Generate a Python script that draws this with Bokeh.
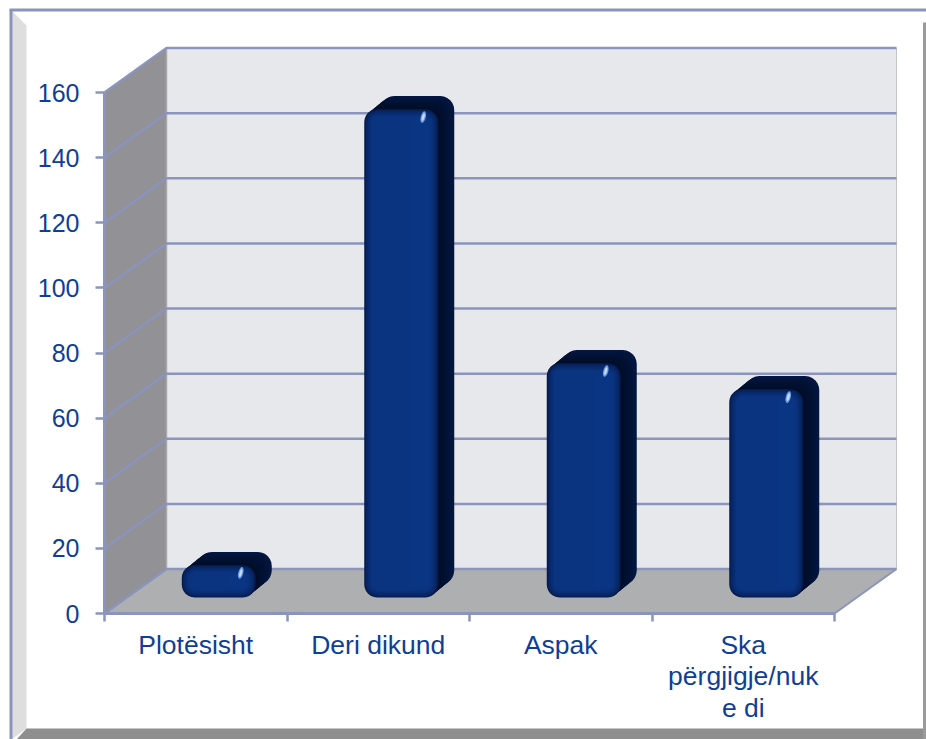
from bokeh.plotting import figure
from bokeh.models import LinearAxis, FixedTicker, Range1d
from bokeh.embed import file_html
from bokeh.resources import INLINE
import math

categories = ["Plotësisht", "Deri dikund", "Aspak", "Ska\npërgjigje/nuk\ne di"]
values = [10, 150, 72, 64]
y_ticks = [0, 20, 40, 60, 80, 100, 120, 140, 160]

W, H = 926, 739
PX_X = 182.5          # pixels per category
PX_Y = 521 / 160      # pixels per value unit
x0 = 0.5 - 104 / PX_X
x1 = x0 + W / PX_X
y0 = -126 / PX_Y
y1 = y0 + H / PX_Y

def dx(px): return px / PX_X
def dy(px): return px / PX_Y

DEPTH_X, DEPTH_Y = dx(62), dy(44.5)
XL, XR = 0.5, 4.5
YB, YT = 0, 160

BLUE = "#8A94BC"
TEXT = "#0F3F95"

p = figure(width=W, height=H, output_backend="svg", toolbar_location=None,
           x_range=Range1d(x0, x1), y_range=Range1d(y0, y1),
           x_axis_type=None, y_axis_type=None,
           min_border=0, min_border_left=0, min_border_right=0,
           min_border_top=0, min_border_bottom=0, outline_line_color=None)
p.grid.visible = False
p.background_fill_color = "white"
p.border_fill_color = "white"

# outer box -----------------------------------------------------------------
fr = x1 - dx(3.5)
fb = y0 + dy(11)
p.patch([x0 + dx(11), x0 + dx(26), x0 + dx(26), x0 + dx(11)],
        [y1 - dy(10), y1 - dy(25), fb, y0],
        fill_color="#DEDEDE", line_color=None)
p.patch([x0 + dx(16), x0 + dx(26), x1, x1], [y0, fb, fb, y0],
        fill_color="#8E8E8E", line_color=None)
p.patch([fr, x1, x1, fr], [y1 - dy(22), y1 - dy(22), y0, y0],
        fill_color="#9A9A9A", line_color=None)
p.line([x0 + dx(10.5), x0 + dx(10.5)], [y0, y1 - dy(9.5)], line_color=BLUE, line_width=3)
p.line([x0 + dx(9), x1], [y1 - dy(9.5), y1 - dy(9.5)], line_color=BLUE, line_width=3)

# walls and floor -----------------------------------------------------------
p.patch([XL + DEPTH_X, XR + DEPTH_X, XR + DEPTH_X, XL + DEPTH_X],
        [YB + DEPTH_Y, YB + DEPTH_Y, YT + DEPTH_Y, YT + DEPTH_Y],
        fill_color="#E7E8EC", line_color=None)
p.patch([XL, XL + DEPTH_X, XL + DEPTH_X, XL],
        [YB, YB + DEPTH_Y, YT + DEPTH_Y, YT],
        fill_color="#929196", line_color=None)
p.patch([XL, XL + DEPTH_X, XR + DEPTH_X, XR],
        [YB, YB + DEPTH_Y, YB + DEPTH_Y, YB],
        fill_color="#AEAFB1", line_color=None)
p.line([XL + DEPTH_X] * 2, [YB + DEPTH_Y, YT + DEPTH_Y], line_color="#A9A9AE", line_width=1.5)
p.line([XR + DEPTH_X] * 2, [YB + DEPTH_Y, YT + DEPTH_Y], line_color="#C4C5C9", line_width=1)
for t in y_ticks:
    p.line([XL, XL + DEPTH_X, XR + DEPTH_X], [t, t + DEPTH_Y, t + DEPTH_Y],
           line_color=BLUE, line_width=2.5)
p.line([XR, XR + DEPTH_X], [YB, YB + DEPTH_Y], line_color=BLUE, line_width=2)

# bars ----------------------------------------------------------------------
def rrect(l, r, b, t, rad):
    xs, ys = [], []
    corners = [(r - rad, t - rad, 0), (l + rad, t - rad, 90),
               (l + rad, b + rad, 180), (r - rad, b + rad, 270)]
    for cx, cy, a0 in corners:
        for k in range(7):
            a = math.radians(a0 + 15 * k)
            xs.append(cx + rad * math.cos(a))
            ys.append(cy + rad * math.sin(a))
    return xs, ys

def to_data(shape):
    return [x / PX_X for x in shape[0]], [y / PX_Y for y in shape[1]]

def mix(a, b, t):
    ca = [int(a[i:i + 2], 16) for i in (1, 3, 5)]
    cb = [int(b[i:i + 2], 16) for i in (1, 3, 5)]
    return "#%02x%02x%02x" % tuple(round(u + (v - u) * t) for u, v in zip(ca, cb))

xs, ys, cols = [], [], []
hx, hy = [], []
BAR_W = 74
for i, v in enumerate(values):
    cx = (i + 1) * PX_X + 23             # pixel-space centre of the front face
    l, r = cx - BAR_W / 2, cx + BAR_W / 2
    b, t = 16, v * PX_Y + 16
    # depth: stacked shapes walking back from the front face
    n = 12
    for k in range(n, 0, -1):
        f = k / n
        s = to_data(rrect(l + 16 * f, r + 16 * f, b + 13 * f, t + 13 * f, 14))
        xs.append(s[0]); ys.append(s[1]); cols.append(mix("#010C26", "#041B4C", f * 0.7))
    # front face: nested shapes, dark rim to light body
    m = 9
    for k in range(m):
        f = k / (m - 1)
        ins = k * 0.85
        s = to_data(rrect(l + ins, r - ins, b + ins, t - ins, max(13 - ins * 0.8, 3)))
        xs.append(s[0]); ys.append(s[1]); cols.append(mix("#061A48", "#0A3380", f ** 0.6))
    # lighter band on the right part of the face, when tall enough
    if t - b > 24:
        s = to_data(rrect(r - 27, r - 9, b + 9, t - 9, 4))
        xs.append(s[0]); ys.append(s[1]); cols.append("#0A3583")
    hx.append((r - 15) / PX_X)
    hy.append((t - 8) / PX_Y)

p.patches(xs, ys, fill_color=cols, line_color=None)
p.ellipse(hx, hy, width=5, height=12, width_units="screen", height_units="screen",
          angle=-0.25, fill_color="#6F9BE0", line_color=None)
p.ellipse(hx, hy, width=2.5, height=8, width_units="screen", height_units="screen",
          angle=-0.25, fill_color="#C6DCF8", line_color=None)

# axes ----------------------------------------------------------------------
yax = LinearAxis(ticker=FixedTicker(ticks=y_ticks), fixed_location=XL, bounds=(YB, YT))
yax.axis_line_color = BLUE
yax.axis_line_width = 3
yax.major_tick_line_color = BLUE
yax.major_tick_line_width = 2.5
yax.major_tick_in = 0
yax.major_tick_out = 9
yax.minor_tick_line_color = None
yax.major_label_standoff = 16
yax.major_label_text_font = "Liberation Sans"
yax.major_label_text_font_size = "25px"
yax.major_label_text_color = TEXT
p.add_layout(yax, "left")

edges = [0.5, 1.5, 2.5, 3.5, 4.5]
xax = LinearAxis(ticker=FixedTicker(ticks=edges), fixed_location=YB, bounds=(XL, XR))
xax.axis_line_color = BLUE
xax.axis_line_width = 3
xax.major_tick_line_color = BLUE
xax.major_tick_line_width = 2.5
xax.major_tick_in = 0
xax.major_tick_out = 8
xax.minor_tick_line_color = None
xax.major_label_text_font_size = "0px"
xax.major_label_overrides = {t: "" for t in edges}
p.add_layout(xax, "below")

lax = LinearAxis(ticker=FixedTicker(ticks=[1, 2, 3, 4]), fixed_location=YB)
lax.axis_line_color = None
lax.major_tick_line_color = None
lax.minor_tick_line_color = None
lax.major_label_overrides = {i + 1: c for i, c in enumerate(categories)}
lax.major_label_standoff = 10
lax.major_label_text_font = "Liberation Sans"
lax.major_label_text_font_size = "26.5px"
lax.major_label_text_color = TEXT
lax.major_label_text_line_height = 1.05
p.add_layout(lax, "below")

open("out.html", "w").write(file_html(p, INLINE))
